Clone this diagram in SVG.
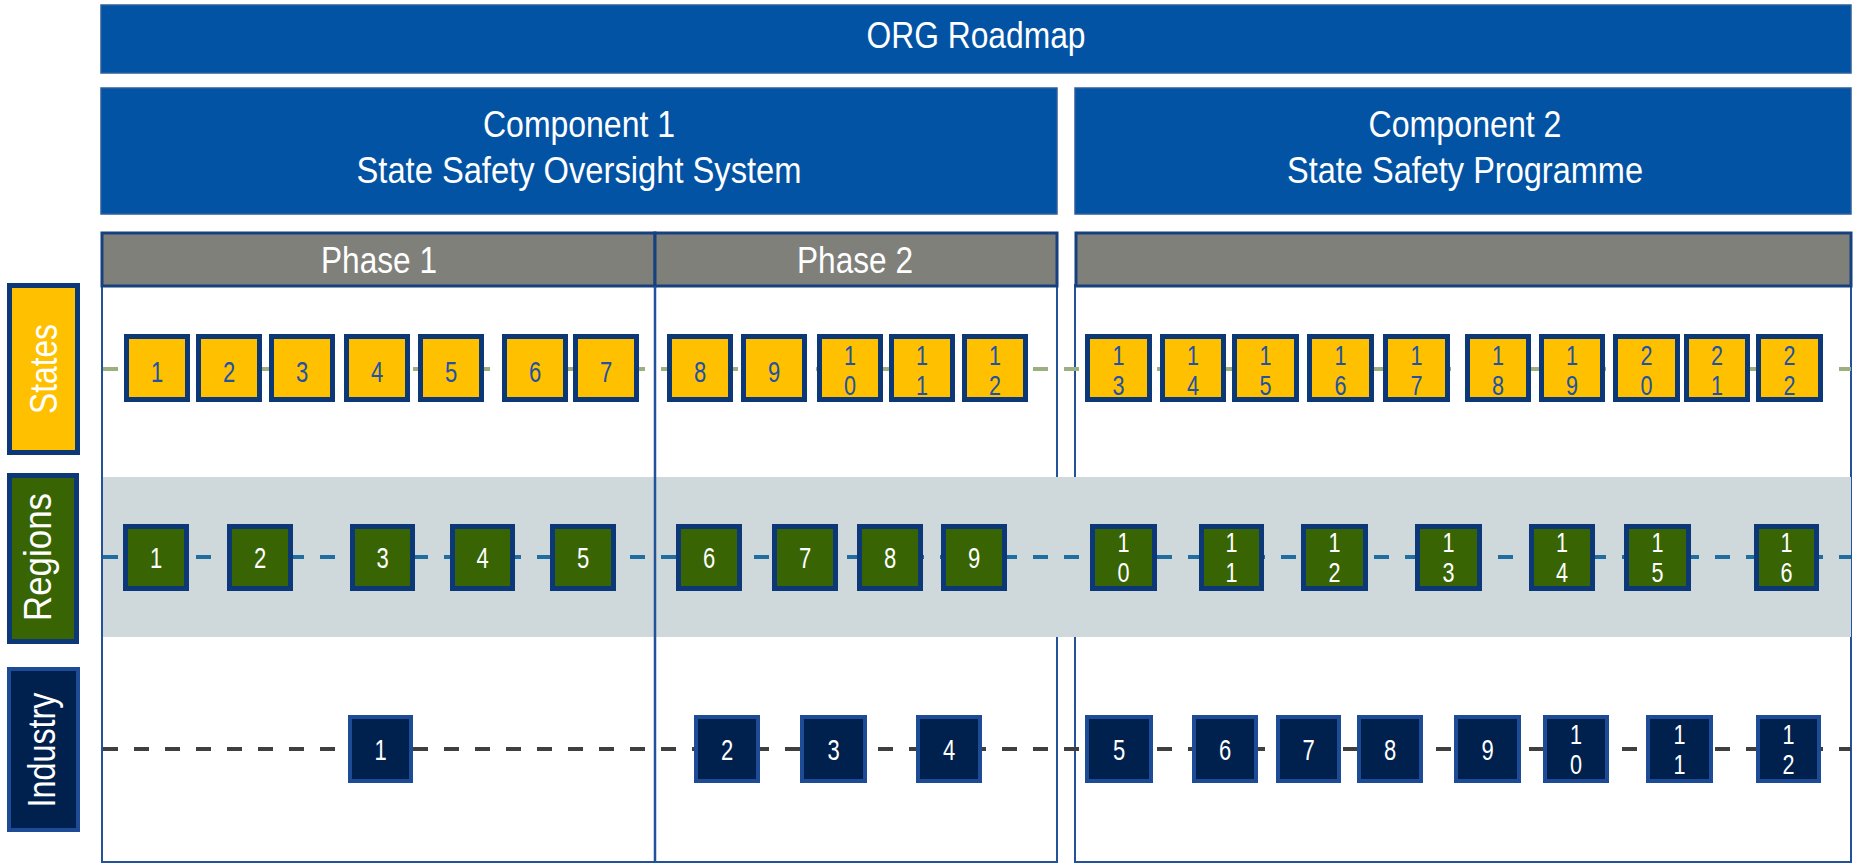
<svg xmlns="http://www.w3.org/2000/svg" width="1854" height="864" viewBox="0 0 1854 864">
  <style>
    text { font-family: "Liberation Sans", Arial, sans-serif; }
    .hdr { fill: #0353A4; stroke: #2D5F9C; stroke-width: 1.5; }
    .phase { fill: #80807B; stroke: #17407F; stroke-width: 3; }
    .frame { fill: none; stroke: #22529A; stroke-width: 2; }
    .title { fill: #FFFFFF; font-size: 36px; text-anchor: middle; }
    .lbl { fill: #FFFFFF; font-size: 38px; text-anchor: middle; }
    .st { fill: #FFC000; stroke: #0D3878; stroke-width: 5; }
    .rg { fill: #386404; stroke: #0D3878; stroke-width: 5; }
    .in { fill: #00214E; stroke: #1D4B96; stroke-width: 4; }
    .num { font-size: 29px; text-anchor: middle; }
    .two { font-size: 27px; }
    .ny { fill: #2152A3; }
    .nw { fill: #FFFFFF; }
    .dash { fill: none; stroke-width: 4; stroke-dasharray: 15 16; }
  </style>

  <!-- headers -->
  <g id="roadmap">
    <rect class="hdr" x="101" y="5" width="1750" height="68"/>
    <text class="title" x="976" y="48" font-size="33" textLength="219" lengthAdjust="spacingAndGlyphs">ORG Roadmap</text>
  </g>
  <g id="component1">
    <rect class="hdr" x="101" y="88" width="956" height="126"/>
    <text class="title" x="579" y="137" textLength="192" lengthAdjust="spacingAndGlyphs">Component 1</text>
    <text class="title" x="579" y="183" textLength="445" lengthAdjust="spacingAndGlyphs">State Safety Oversight System</text>
  </g>
  <g id="component2">
    <rect class="hdr" x="1075" y="88" width="776" height="126"/>
    <text class="title" x="1465" y="137" textLength="193" lengthAdjust="spacingAndGlyphs">Component 2</text>
    <text class="title" x="1465" y="183" textLength="356" lengthAdjust="spacingAndGlyphs">State Safety Programme</text>
  </g>

  <!-- column frames -->
  <g id="frames">
    <rect class="frame" x="102" y="285" width="955" height="577"/>
    <rect class="frame" x="1075" y="285" width="776" height="577"/>
  </g>
  <g id="phase1">
    <rect class="phase" x="102" y="233" width="553" height="53"/>
    <text class="title" x="379" y="273" font-size="37" textLength="116" lengthAdjust="spacingAndGlyphs">Phase 1</text>
  </g>
  <g id="phase2">
    <rect class="phase" x="655" y="233" width="402" height="53"/>
    <text class="title" x="855" y="273" font-size="37" textLength="116" lengthAdjust="spacingAndGlyphs">Phase 2</text>
  </g>
  <g id="phase3">
    <rect class="phase" x="1076" y="233" width="775" height="53"/>
  </g>

  <!-- regions lane background -->
  <rect id="regions-band" x="103" y="477" width="1748" height="160" fill="#CFD8DB"/>
  <line id="phase-divider" x1="655" y1="286" x2="655" y2="862" stroke="#22529A" stroke-width="2.5"/>

  <!-- lane connectors -->
  <g id="connectors">
    <line class="dash" x1="103" y1="369" x2="1851" y2="369" stroke="#9BB07F"/>
    <line class="dash" x1="103" y1="557" x2="1851" y2="557" stroke="#1F6E9F"/>
    <line class="dash" x1="103" y1="749" x2="1851" y2="749" stroke="#3F3F3F"/>
  </g>

  <!-- lane labels -->
  <g id="label-states">
    <rect x="9.5" y="285.5" width="68" height="167" fill="#FFC000" stroke="#0D3878" stroke-width="5"/>
    <text class="lbl" transform="translate(57,369) rotate(-90)" textLength="90" lengthAdjust="spacingAndGlyphs">States</text>
  </g>
  <g id="label-regions">
    <rect x="9.5" y="475.5" width="67" height="166" fill="#386404" stroke="#0D3878" stroke-width="5"/>
    <text class="lbl" transform="translate(51,557) rotate(-90)" font-size="35" textLength="128" lengthAdjust="spacingAndGlyphs">Regions</text>
  </g>
  <g id="label-industry">
    <rect x="9" y="669" width="69" height="161" fill="#00214E" stroke="#1D4B96" stroke-width="4"/>
    <text class="lbl" transform="translate(55,750) rotate(-90)" font-size="36" textLength="115" lengthAdjust="spacingAndGlyphs">Industry</text>
  </g>

  <!-- States lane -->
  <g id="states">
    <g id="s1"><rect class="st" x="126.5" y="336.5" width="61" height="63"/><text class="num ny" transform="matrix(.76 0 0 1 157 382)">1</text></g>
    <g id="s2"><rect class="st" x="198.5" y="336.5" width="61" height="63"/><text class="num ny" transform="matrix(.76 0 0 1 229 382)">2</text></g>
    <g id="s3"><rect class="st" x="271.5" y="336.5" width="61" height="63"/><text class="num ny" transform="matrix(.76 0 0 1 302 382)">3</text></g>
    <g id="s4"><rect class="st" x="346.5" y="336.5" width="61" height="63"/><text class="num ny" transform="matrix(.76 0 0 1 377 382)">4</text></g>
    <g id="s5"><rect class="st" x="420.5" y="336.5" width="61" height="63"/><text class="num ny" transform="matrix(.76 0 0 1 451 382)">5</text></g>
    <g id="s6"><rect class="st" x="504.5" y="336.5" width="61" height="63"/><text class="num ny" transform="matrix(.76 0 0 1 535 382)">6</text></g>
    <g id="s7"><rect class="st" x="575.5" y="336.5" width="61" height="63"/><text class="num ny" transform="matrix(.76 0 0 1 606 382)">7</text></g>
    <g id="s8"><rect class="st" x="669.5" y="336.5" width="61" height="63"/><text class="num ny" transform="matrix(.76 0 0 1 700 382)">8</text></g>
    <g id="s9"><rect class="st" x="743.5" y="336.5" width="61" height="63"/><text class="num ny" transform="matrix(.76 0 0 1 774 382)">9</text></g>
    <g id="s10"><rect class="st" x="819.5" y="336.5" width="61" height="63"/><text class="num two ny" transform="matrix(.8 0 0 1 850 0)"><tspan x="0" y="365">1</tspan><tspan x="0" y="395.5">0</tspan></text></g>
    <g id="s11"><rect class="st" x="891.5" y="336.5" width="61" height="63"/><text class="num two ny" transform="matrix(.8 0 0 1 922 0)"><tspan x="0" y="365">1</tspan><tspan x="0" y="395.5">1</tspan></text></g>
    <g id="s12"><rect class="st" x="964.5" y="336.5" width="61" height="63"/><text class="num two ny" transform="matrix(.8 0 0 1 995 0)"><tspan x="0" y="365">1</tspan><tspan x="0" y="395.5">2</tspan></text></g>
    <g id="s13"><rect class="st" x="1087.5" y="336.5" width="62" height="63"/><text class="num two ny" transform="matrix(.8 0 0 1 1118.5 0)"><tspan x="0" y="365">1</tspan><tspan x="0" y="395.5">3</tspan></text></g>
    <g id="s14"><rect class="st" x="1162.5" y="336.5" width="61" height="63"/><text class="num two ny" transform="matrix(.8 0 0 1 1193 0)"><tspan x="0" y="365">1</tspan><tspan x="0" y="395.5">4</tspan></text></g>
    <g id="s15"><rect class="st" x="1234.5" y="336.5" width="62" height="63"/><text class="num two ny" transform="matrix(.8 0 0 1 1265.5 0)"><tspan x="0" y="365">1</tspan><tspan x="0" y="395.5">5</tspan></text></g>
    <g id="s16"><rect class="st" x="1309.5" y="336.5" width="62" height="63"/><text class="num two ny" transform="matrix(.8 0 0 1 1340.5 0)"><tspan x="0" y="365">1</tspan><tspan x="0" y="395.5">6</tspan></text></g>
    <g id="s17"><rect class="st" x="1385.5" y="336.5" width="62" height="63"/><text class="num two ny" transform="matrix(.8 0 0 1 1416.5 0)"><tspan x="0" y="365">1</tspan><tspan x="0" y="395.5">7</tspan></text></g>
    <g id="s18"><rect class="st" x="1467.5" y="336.5" width="61" height="63"/><text class="num two ny" transform="matrix(.8 0 0 1 1498 0)"><tspan x="0" y="365">1</tspan><tspan x="0" y="395.5">8</tspan></text></g>
    <g id="s19"><rect class="st" x="1541.5" y="336.5" width="61" height="63"/><text class="num two ny" transform="matrix(.8 0 0 1 1572 0)"><tspan x="0" y="365">1</tspan><tspan x="0" y="395.5">9</tspan></text></g>
    <g id="s20"><rect class="st" x="1615.5" y="336.5" width="62" height="63"/><text class="num two ny" transform="matrix(.8 0 0 1 1646.5 0)"><tspan x="0" y="365">2</tspan><tspan x="0" y="395.5">0</tspan></text></g>
    <g id="s21"><rect class="st" x="1686.5" y="336.5" width="61" height="63"/><text class="num two ny" transform="matrix(.8 0 0 1 1717 0)"><tspan x="0" y="365">2</tspan><tspan x="0" y="395.5">1</tspan></text></g>
    <g id="s22"><rect class="st" x="1758.5" y="336.5" width="62" height="63"/><text class="num two ny" transform="matrix(.8 0 0 1 1789.5 0)"><tspan x="0" y="365">2</tspan><tspan x="0" y="395.5">2</tspan></text></g>
  </g>

  <!-- Regions lane -->
  <g id="regions">
    <g id="r1"><rect class="rg" x="125.5" y="526.5" width="61" height="62"/><text class="num nw" transform="matrix(.76 0 0 1 156 568)">1</text></g>
    <g id="r2"><rect class="rg" x="229.5" y="526.5" width="61" height="62"/><text class="num nw" transform="matrix(.76 0 0 1 260 568)">2</text></g>
    <g id="r3"><rect class="rg" x="352.5" y="526.5" width="60" height="62"/><text class="num nw" transform="matrix(.76 0 0 1 382.5 568)">3</text></g>
    <g id="r4"><rect class="rg" x="452.5" y="526.5" width="60" height="62"/><text class="num nw" transform="matrix(.76 0 0 1 482.5 568)">4</text></g>
    <g id="r5"><rect class="rg" x="552.5" y="526.5" width="61" height="62"/><text class="num nw" transform="matrix(.76 0 0 1 583 568)">5</text></g>
    <g id="r6"><rect class="rg" x="678.5" y="526.5" width="61" height="62"/><text class="num nw" transform="matrix(.76 0 0 1 709 568)">6</text></g>
    <g id="r7"><rect class="rg" x="774.5" y="526.5" width="61" height="62"/><text class="num nw" transform="matrix(.76 0 0 1 805 568)">7</text></g>
    <g id="r8"><rect class="rg" x="859.5" y="526.5" width="61" height="62"/><text class="num nw" transform="matrix(.76 0 0 1 890 568)">8</text></g>
    <g id="r9"><rect class="rg" x="943.5" y="526.5" width="61" height="62"/><text class="num nw" transform="matrix(.76 0 0 1 974 568)">9</text></g>
    <g id="r10"><rect class="rg" x="1092.5" y="526.5" width="62" height="62"/><text class="num two nw" transform="matrix(.8 0 0 1 1123.5 0)"><tspan x="0" y="552">1</tspan><tspan x="0" y="582.5">0</tspan></text></g>
    <g id="r11"><rect class="rg" x="1201.5" y="526.5" width="60" height="62"/><text class="num two nw" transform="matrix(.8 0 0 1 1231.5 0)"><tspan x="0" y="552">1</tspan><tspan x="0" y="582.5">1</tspan></text></g>
    <g id="r12"><rect class="rg" x="1303.5" y="526.5" width="62" height="62"/><text class="num two nw" transform="matrix(.8 0 0 1 1334.5 0)"><tspan x="0" y="552">1</tspan><tspan x="0" y="582.5">2</tspan></text></g>
    <g id="r13"><rect class="rg" x="1417.5" y="526.5" width="62" height="62"/><text class="num two nw" transform="matrix(.8 0 0 1 1448.5 0)"><tspan x="0" y="552">1</tspan><tspan x="0" y="582.5">3</tspan></text></g>
    <g id="r14"><rect class="rg" x="1531.5" y="526.5" width="61" height="62"/><text class="num two nw" transform="matrix(.8 0 0 1 1562 0)"><tspan x="0" y="552">1</tspan><tspan x="0" y="582.5">4</tspan></text></g>
    <g id="r15"><rect class="rg" x="1626.5" y="526.5" width="62" height="62"/><text class="num two nw" transform="matrix(.8 0 0 1 1657.5 0)"><tspan x="0" y="552">1</tspan><tspan x="0" y="582.5">5</tspan></text></g>
    <g id="r16"><rect class="rg" x="1756.5" y="526.5" width="60" height="62"/><text class="num two nw" transform="matrix(.8 0 0 1 1786.5 0)"><tspan x="0" y="552">1</tspan><tspan x="0" y="582.5">6</tspan></text></g>
  </g>

  <!-- Industry lane -->
  <g id="industry">
    <g id="i1"><rect class="in" x="350" y="717" width="61" height="64"/><text class="num nw" transform="matrix(.76 0 0 1 380.5 760)">1</text></g>
    <g id="i2"><rect class="in" x="696" y="717" width="62" height="64"/><text class="num nw" transform="matrix(.76 0 0 1 727 760)">2</text></g>
    <g id="i3"><rect class="in" x="802" y="717" width="63" height="64"/><text class="num nw" transform="matrix(.76 0 0 1 833.5 760)">3</text></g>
    <g id="i4"><rect class="in" x="918" y="717" width="62" height="64"/><text class="num nw" transform="matrix(.76 0 0 1 949 760)">4</text></g>
    <g id="i5"><rect class="in" x="1087" y="717" width="64" height="64"/><text class="num nw" transform="matrix(.76 0 0 1 1119 760)">5</text></g>
    <g id="i6"><rect class="in" x="1194" y="717" width="62" height="64"/><text class="num nw" transform="matrix(.76 0 0 1 1225 760)">6</text></g>
    <g id="i7"><rect class="in" x="1278" y="717" width="61" height="64"/><text class="num nw" transform="matrix(.76 0 0 1 1308.5 760)">7</text></g>
    <g id="i8"><rect class="in" x="1359" y="717" width="62" height="64"/><text class="num nw" transform="matrix(.76 0 0 1 1390 760)">8</text></g>
    <g id="i9"><rect class="in" x="1456" y="717" width="63" height="64"/><text class="num nw" transform="matrix(.76 0 0 1 1487.5 760)">9</text></g>
    <g id="i10"><rect class="in" x="1545" y="717" width="62" height="64"/><text class="num two nw" transform="matrix(.8 0 0 1 1576 0)"><tspan x="0" y="744">1</tspan><tspan x="0" y="774.5">0</tspan></text></g>
    <g id="i11"><rect class="in" x="1648" y="717" width="63" height="64"/><text class="num two nw" transform="matrix(.8 0 0 1 1679.5 0)"><tspan x="0" y="744">1</tspan><tspan x="0" y="774.5">1</tspan></text></g>
    <g id="i12"><rect class="in" x="1758" y="717" width="61" height="64"/><text class="num two nw" transform="matrix(.8 0 0 1 1788.5 0)"><tspan x="0" y="744">1</tspan><tspan x="0" y="774.5">2</tspan></text></g>
  </g>
</svg>
